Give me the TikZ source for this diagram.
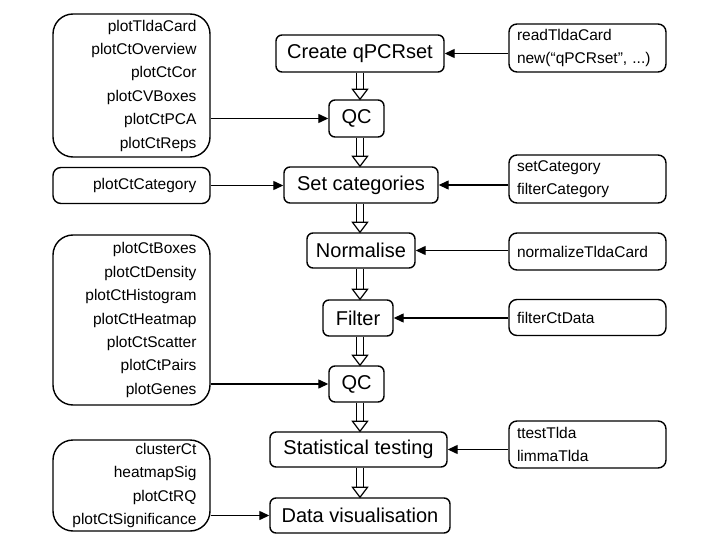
\documentclass[tikz,border=0pt]{standalone}
\usepackage{fontspec}
\setmainfont{Liberation Sans}
\usetikzlibrary{arrows.meta,calc}
\tikzset{
  mainbox/.style={draw, line width=1.4pt, rounded corners=6pt, inner sep=0pt,
    font=\fontsize{20}{24}\selectfont},
  leftbox/.style={draw, line width=1.4pt, rounded corners=20pt, inner xsep=13.5pt, inner ysep=0pt,
    minimum width=157pt, text width=130pt, align=right,
    font=\fontsize{15.5}{23.4}\selectfont},
  smallleft/.style={leftbox, rounded corners=8pt},
  rightbox/.style={draw, line width=1.4pt, rounded corners=8pt, inner xsep=8pt, inner ysep=0pt,
    minimum width=157pt, text width=141pt, align=left,
    font=\fontsize{15.5}{23.4}\selectfont},
  arr/.style={line width=1.3pt, -{Triangle[length=10pt,width=9pt]}},
  dblline/.style={line width=1.2pt},
}
\newcommand\dblarr[2]{%
  \draw[dblline] ($(#1.south -| ax)+(-3.2,0)$) -- ($(#2.north -| ax)+(-3.2,-10)$);
  \draw[dblline] ($(#1.south -| ax)+(3.2,0)$) -- ($(#2.north -| ax)+(3.2,-10)$);
  \draw[dblline, fill=white, line join=miter] ($(#2.north -| ax)+(-7.5,-10)$) -- ($(#2.north -| ax)+(7.5,-10)$) -- (#2.north -| ax) -- cycle;
}
\begin{document}
\begin{tikzpicture}[x=1pt,y=-1pt]
\useasboundingbox (0,0) rectangle (720,540);
\coordinate (ax) at (360,0);
% main column
\node[mainbox, minimum width=168pt, minimum height=37pt] (create) at (360,53.5) {Create qPCRset};
\node[mainbox, minimum width=55pt, minimum height=37pt] (qc1) at (356.5,118.5) {QC};
\node[mainbox, minimum width=154pt, minimum height=36pt] (setcat) at (361,185) {Set categories};
\node[mainbox, minimum width=108pt, minimum height=35pt] (norm) at (361,250.5) {Normalise};
\node[mainbox, minimum width=70pt, minimum height=36pt] (filter) at (358,318) {Filter};
\node[mainbox, minimum width=55pt, minimum height=36pt] (qc2) at (356.5,384) {QC};
\node[mainbox, minimum width=177pt, minimum height=35pt] (stat) at (358.5,449.5) {Statistical testing};
\node[mainbox, minimum width=180pt, minimum height=35pt] (vis) at (360,515.5) {Data visualisation};
% left boxes
\node[leftbox, minimum height=143pt] (L1) at (131.5,85.5) {plotTldaCard\\plotCtOverview\\plotCtCor\\plotCVBoxes\\plotCtPCA\\plotCtReps};
\node[smallleft, minimum height=36pt] (Lcat) at (131.5,185.5) {plotCtCategory};
\node[leftbox, minimum height=170pt] (L2) at (131.5,320) {plotCtBoxes\\plotCtDensity\\plotCtHistogram\\plotCtHeatmap\\plotCtScatter\\plotCtPairs\\plotGenes};
\node[leftbox, minimum height=91pt] (L3) at (131.5,485.5) {clusterCt\\heatmapSig\\plotCtRQ\\plotCtSignificance};
% right boxes
\node[rightbox, minimum height=48pt] (R1) at (587.5,48) {readTldaCard\\new(“qPCRset”, ...)};
\node[rightbox, minimum height=48pt] (R2) at (587.5,179) {setCategory\\filterCategory};
\node[rightbox, minimum height=37pt] (R3) at (587.5,251.5) {normalizeTldaCard};
\node[rightbox, minimum height=36pt] (R4) at (587.5,317.5) {filterCtData};
\node[rightbox, minimum height=47pt] (R5) at (587.5,444.5) {ttestTlda\\limmaTlda};
% double arrows
\dblarr{create}{qc1}
\dblarr{qc1}{setcat}
\dblarr{setcat}{norm}
\dblarr{norm}{filter}
\dblarr{filter}{qc2}
\dblarr{qc2}{stat}
\dblarr{stat}{vis}
% left arrows
\draw[arr] (L1.east |- qc1.west) -- (qc1.west);
\draw[arr] (Lcat.east) -- (setcat.west |- Lcat.east);
\draw[arr] (L2.east |- qc2.west) -- (qc2.west);
\draw[arr] (L3.east |- vis.west) -- (vis.west);
% right arrows
\draw[arr] (R1.west |- create.east) -- (create.east);
\draw[arr] (R2.west |- setcat.east) -- (setcat.east);
\draw[arr] (R3.west |- norm.east) -- (norm.east);
\draw[arr] (R4.west |- filter.east) -- (filter.east);
\draw[arr] (R5.west |- stat.east) -- (stat.east);
\end{tikzpicture}
\end{document}
